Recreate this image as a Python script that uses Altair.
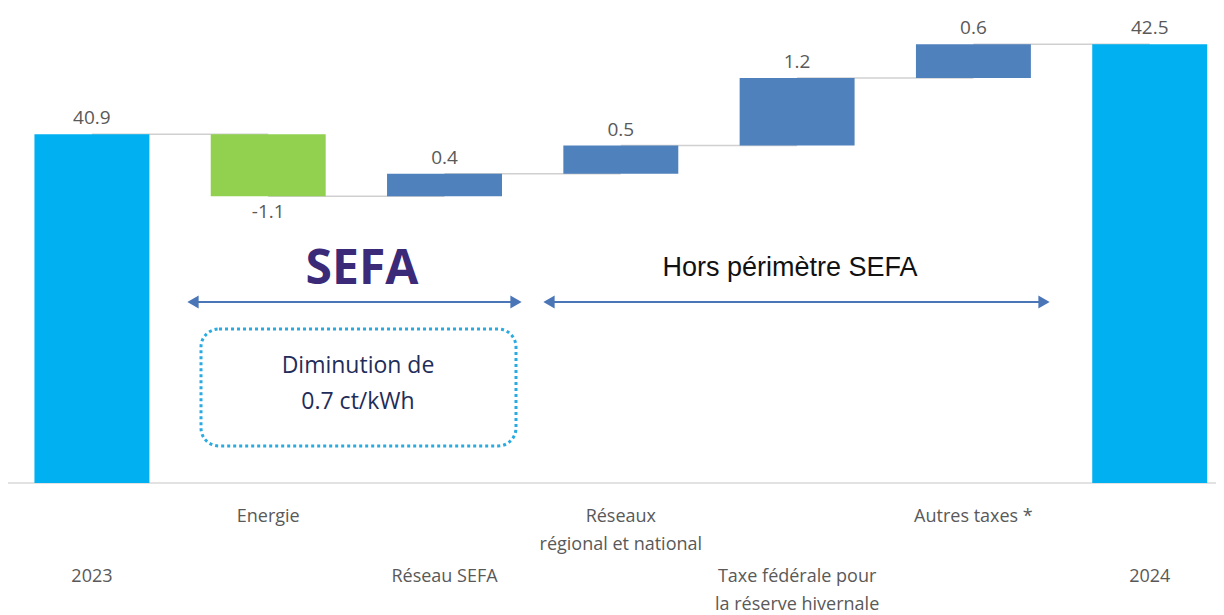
import altair as alt
import pandas as pd

# ---- data ----
categories = ["2023", "Energie", "Réseau SEFA", "Réseaux régional et national",
              "Taxe fédérale pour la réserve hivernale", "Autres taxes *", "2024"]
label_lines = [["2023"], ["Energie"], ["Réseau SEFA"], ["Réseaux", "régional et national"],
               ["Taxe fédérale pour", "la réserve hivernale"], ["Autres taxes *"], ["2024"]]
label_row = [1, 0, 1, 0, 1, 0, 1]
total_2023 = 40.9
total_2024 = 42.5
changes = [-1.1, 0.4, 0.5, 1.2, 0.6]
axis_min = 34.7

# ---- build tables ----
rows = []
rows.append(dict(cat=categories[0], lo=axis_min, hi=total_2023, kind="total", lab=f"{total_2023:.1f}", level=total_2023))
cum = total_2023
for i, d in enumerate(changes):
    new = round(cum + d, 2)
    rows.append(dict(cat=categories[i + 1], lo=min(cum, new), hi=max(cum, new),
                     kind="decrease" if d < 0 else "increase", lab=f"{d:.1f}", level=new))
    cum = new
rows.append(dict(cat=categories[-1], lo=axis_min, hi=total_2024, kind="total", lab=f"{total_2024:.1f}", level=total_2024))
bars = pd.DataFrame(rows)

conn = []
for i in range(len(categories) - 1):
    conn.append(dict(cat=categories[i], level=rows[i]["level"], seg=i))
    conn.append(dict(cat=categories[i + 1], level=rows[i]["level"], seg=i))
conn = pd.DataFrame(conn)

lab_rows = []
for c, lines, r in zip(categories, label_lines, label_row):
    for j, t in enumerate(lines):
        lab_rows.append(dict(cat=c, text=t, row=r, line=j))
labs = pd.DataFrame(lab_rows)

W, H = 1208, 607
PX = 56.25
y_lo = axis_min - (H - 475) / PX
y_hi = axis_min + 475 / PX

xscale = alt.Scale(domain=categories, paddingInner=0.348, paddingOuter=0.1, align=0.75)
yscale = alt.Scale(domain=[y_lo, y_hi], nice=False, zero=False)
X = alt.X("cat:N", scale=xscale, axis=None, sort=categories)

FONT = "Open Sans"
GRAY = "#595959"

baseline = alt.Chart(alt.Data(values=[{"v": axis_min}])).mark_rule(color="#d9d9d9", strokeWidth=1.5).encode(
    y=alt.Y("v:Q", scale=yscale, axis=None), x=alt.value(0), x2=alt.value(W))

connectors = alt.Chart(conn).mark_line(color="#d0d0d0", strokeWidth=1.5).encode(
    x=X, y=alt.Y("level:Q", scale=yscale, axis=None), detail="seg:N")

bar_layer = alt.Chart(bars).mark_bar().encode(
    x=X,
    y=alt.Y("lo:Q", scale=yscale, axis=None),
    y2="hi:Q",
    color=alt.Color("kind:N", legend=None,
                    scale=alt.Scale(domain=["total", "decrease", "increase"],
                                    range=["#00b0f0", "#92d050", "#4f81bd"])),
)

val_up = alt.Chart(bars).transform_filter("datum.kind != 'decrease'").mark_text(
    font=FONT, fontSize=19, color=GRAY, baseline="middle", dy=-16).encode(
    x=X, y=alt.Y("hi:Q", scale=yscale, axis=None), text="lab:N")
val_down = alt.Chart(bars).transform_filter("datum.kind == 'decrease'").mark_text(
    font=FONT, fontSize=19, color=GRAY, baseline="middle", dy=16).encode(
    x=X, y=alt.Y("lo:Q", scale=yscale, axis=None), text="lab:N")

label_layers = []
for r, base in [(0, 509), (1, 569)]:
    for j in [0, 1]:
        label_layers.append(
            alt.Chart(labs).transform_filter(f"datum.row == {r} && datum.line == {j}").mark_text(
                font=FONT, fontSize=18, color=GRAY, baseline="middle").encode(
                x=X, y=alt.value(base + 28 * j), text="text:N"))

one = alt.Data(values=[{}])
ARROW = "#4a76b8"

sefa = alt.Chart(one).mark_text(font=FONT, fontSize=48, fontWeight="bold", color="#3b2a78",
                                baseline="middle").encode(
    x=alt.value(354), y=alt.value(262), text=alt.value("SEFA"))
hors = alt.Chart(one).mark_text(font="Liberation Sans", fontSize=27, color="#111111",
                                baseline="middle").encode(
    x=alt.value(782), y=alt.value(260), text=alt.value("Hors périmètre SEFA"))

arrows = []
for x1, x2 in [(179, 514), (535, 1042)]:
    arrows.append(alt.Chart(one).mark_rule(color=ARROW, strokeWidth=2).encode(
        x=alt.value(x1 + 4), x2=alt.value(x2 - 4), y=alt.value(294)))
    arrows.append(alt.Chart(one).mark_point(shape="triangle-left", filled=True, color=ARROW,
                                            size=170, opacity=1).encode(
        x=alt.value(x1 + 6), y=alt.value(294)))
    arrows.append(alt.Chart(one).mark_point(shape="triangle-right", filled=True, color=ARROW,
                                            size=170, opacity=1).encode(
        x=alt.value(x2 - 6), y=alt.value(294)))

box = alt.Chart(one).mark_rect(fill="transparent", stroke="#29abe2", strokeWidth=3,
                               strokeDash=[3, 3], cornerRadius=18).encode(
    x=alt.value(193), x2=alt.value(508), y=alt.value(321), y2=alt.value(438))
dim1 = alt.Chart(one).mark_text(font=FONT, fontSize=23, color="#1f2d5a", baseline="middle").encode(
    x=alt.value(350), y=alt.value(358), text=alt.value("Diminution de"))
dim2 = alt.Chart(one).mark_text(font=FONT, fontSize=23, color="#1f2d5a", baseline="middle").encode(
    x=alt.value(350), y=alt.value(394), text=alt.value("0.7 ct/kWh"))

chart = alt.layer(
    baseline, connectors, bar_layer, val_up, val_down, *label_layers,
    sefa, hors, *arrows, box, dim1, dim2
).properties(
    width=W, height=H, padding=0,
    autosize=alt.AutoSizeParams(type="none"),
).configure_view(strokeWidth=0)

chart.save("out.html", embed_options={"renderer": "svg", "actions": False})
